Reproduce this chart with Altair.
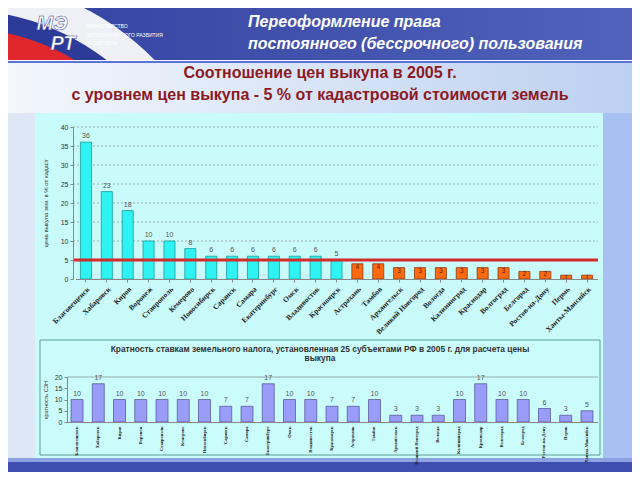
import altair as alt
import pandas as pd

# ---------------- data ----------------
cities = ["Благовещенск", "Хабаровск", "Киров", "Воронеж", "Ставрополь", "Кемерово",
          "Новосибирск", "Саранск", "Самара", "Екатеринбург", "Омск", "Владивосток",
          "Красноярск", "Астрахань", "Тамбов", "Архангельск", "Великий Новгород",
          "Вологда", "Калининград", "Краснодар", "Волгоград", "Белгород",
          "Ростов-на-Дону", "Пермь", "Ханты-Мансийск"]
price_ratio = [36, 23, 18, 10, 10, 8, 6, 6, 6, 6, 6, 6, 5, 4, 4, 3, 3, 3, 3, 3, 3, 2, 2, 1, 1]
tax_multiple = [10, 17, 10, 10, 10, 10, 10, 7, 7, 17, 10, 10, 7, 7, 10, 3, 3, 3, 10, 17, 10, 10, 6, 3, 5]
top_ticks = [0, 5, 10, 15, 20, 25, 30, 35, 40]
grid_vals = [5, 10, 15, 20, 25, 30, 35, 40]
bottom_ticks = [0, 5, 10, 15, 20]
level = [5]

header_line1 = "Переоформление права"
header_line2 = "постоянного (бессрочного) пользования"
title_line1 = "Соотношение цен выкупа в 2005 г."
title_line2 = "с уровнем цен выкупа - 5 % от кадастровой стоимости земель"
sub_title1 = "Кратность ставкам земельного налога, установленная 25 субъектами РФ  в 2005 г. для расчета цены"
sub_title2 = "выкупа"
ministry = ["МИНИСТЕРСТВО", "ЭКОНОМИЧЕСКОГО РАЗВИТИЯ", "И ТОРГОВЛИ"]

df = pd.DataFrame({"city": cities, "ratio": price_ratio, "mult": tax_multiple})
grid_df = pd.DataFrame({"g": grid_vals})
level_df = pd.DataFrame({"lvl": level})
one = pd.DataFrame({"k": [0]})

W, H = 624, 464


def rect(x, x2, y, y2, **kw):
    return alt.Chart(one).mark_rect(**kw).encode(
        x=alt.value(x), x2=alt.value(x2), y=alt.value(y), y2=alt.value(y2))


def label(txt, x, y, **kw):
    return alt.Chart(one).mark_text(text=txt, **kw).encode(x=alt.value(x), y=alt.value(y))


def ring(r1, r2, color):
    return alt.Chart(one).mark_arc(radius=r1, radius2=r2, theta=0, theta2=1.6,
                                   fill=color).encode(x=alt.value(-48), y=alt.value(242))


hgrad = lambda c1, c2: alt.Gradient(gradient="linear", x1=0, x2=1, y1=0, y2=0,
                                    stops=[alt.GradientStop(color=c1, offset=0),
                                           alt.GradientStop(color=c2, offset=1)])

decor = [
    rect(0, W, 0, 52, color=hgrad("#33429f", "#5062bb")),
    ring(170, 222, "#e2272c"),
    ring(222, 240, "#2c3a98"),
    ring(240, 272, "#eef0f6"),
    label("МЭ", 44, 16, fontSize=20, fontWeight="bold", fontStyle="italic", color="white",
          stroke="#2a3a90", strokeWidth=0.5, font="Liberation Sans"),
    label("РТ", 55, 36, fontSize=20, fontWeight="bold", fontStyle="italic", color="white",
          stroke="#2a3a90", strokeWidth=0.5, font="Liberation Sans"),
    label(ministry[0], 78, 18, fontSize=5, color="white", align="left", font="Liberation Sans"),
    label(ministry[1], 78, 27, fontSize=5, color="white", align="left", font="Liberation Sans"),
    label(ministry[2], 78, 35, fontSize=5, color="white", align="left", font="Liberation Sans"),
    label(header_line1, 240, 14, fontSize=16, fontWeight="bold", fontStyle="italic", color="white",
          align="left", font="Liberation Sans"),
    label(header_line2, 240, 36, fontSize=16, fontWeight="bold", fontStyle="italic", color="white",
          align="left", font="Liberation Sans"),
    rect(0, W, 52, 53, color="#ffffff"),
    rect(0, W, 53, 55, color="#5b73d6"),
    rect(0, W, 55, 105, color=hgrad("#f3f7fc", "#bcd0f1")),
    label(title_line1, 312, 65, fontSize=16, fontWeight="bold", color="#8c1a1f",
          font="Liberation Sans"),
    label(title_line2, 312, 87, fontSize=16, fontWeight="bold", color="#8c1a1f",
          font="Liberation Sans"),
    rect(0, 27, 105, 450, color="#dde7f6"),
    rect(27, 595, 105, 450, color="#c9fbfb"),
    rect(595, W, 105, 450, color="#a9c1f2"),
    rect(32, 592, 332, 447, fill="#cbfcfc", stroke="#5d9b8f", strokeWidth=1),
    label(sub_title1, 312, 341, fontSize=8.4, fontWeight="bold", color="#333333", font="Liberation Sans"),
    label(sub_title2, 312, 350, fontSize=8.4, fontWeight="bold", color="#333333", font="Liberation Sans"),
    rect(0, W, 450, 454, color="#8ea2e2"),
    rect(0, W, 454, H, color="#3e4db0"),
]

# ---------------- top chart ----------------
xs_top = alt.Scale(type="band", domain=cities, range=[67.5, 589.5], paddingInner=0.47, paddingOuter=0.235)
ys_top = alt.Scale(domain=[0, 40], range=[271, 119], nice=False)

grid_top = alt.Chart(grid_df).mark_rule(strokeDash=[2, 2], color="#7f9090", strokeWidth=0.7).encode(
    y=alt.Y("g:Q", scale=ys_top, axis=None), x=alt.value(65), x2=alt.value(590))

bars_top = alt.Chart(df).mark_bar(strokeWidth=0.8).encode(
    x=alt.X("city:N", scale=xs_top, sort=cities,
            axis=alt.Axis(orient="bottom", offset=-193, title=None, labelAngle=-45, labelOverlap=False,
                          labelFont="Liberation Serif", labelFontWeight="bold", labelFontSize=7.5,
                          labelColor="#222222", domainColor="#888888", tickColor="#888888",
                          tickSize=3, labelPadding=3, zindex=2)),
    y=alt.Y("ratio:Q", scale=ys_top,
            axis=alt.Axis(orient="left", offset=-65, values=top_ticks, grid=False,
                          title="цена выкупа зем. в % от кадаст", titleFontSize=6,
                          titleFontWeight="normal", titleColor="#333333", titleFont="Liberation Sans",
                          titlePadding=12,
                          labelFontSize=7, labelColor="#333333", labelFont="Liberation Sans",
                          domainColor="#888888", tickColor="#888888", tickSize=3, zindex=2)),
    color=alt.condition("datum.ratio >= 5", alt.value("#2ff3f3"), alt.value("#ff6a10")),
    stroke=alt.condition("datum.ratio >= 5", alt.value("#1b9c9c"), alt.value("#8a3a10")),
)

red_line = alt.Chart(level_df).mark_rule(color="#d42a2a", strokeWidth=3).encode(
    y=alt.Y("lvl:Q", scale=ys_top, axis=None), x=alt.value(65), x2=alt.value(590))

lab_hi = alt.Chart(df).transform_filter("datum.ratio >= 5").mark_text(
    dy=-6, fontSize=7, color="#555555", font="Liberation Sans").encode(
    x=alt.X("city:N", scale=xs_top, axis=None),
    y=alt.Y("ratio:Q", scale=ys_top, axis=None), text="ratio:Q")

lab_lo = alt.Chart(df).transform_filter("datum.ratio < 5").mark_text(
    dy=3, fontSize=6.5, color="#5a2008", font="Liberation Sans").encode(
    x=alt.X("city:N", scale=xs_top, axis=None),
    y=alt.Y("ratio:Q", scale=ys_top, axis=None), text="ratio:Q")

# ---------------- bottom chart ----------------
xs_bot = alt.Scale(type="band", domain=cities, range=[58.4, 589.6], paddingInner=0.435, paddingOuter=0.2175)
ys_bot = alt.Scale(domain=[0, 20], range=[414, 369], nice=False)

grid_bot = alt.Chart(pd.DataFrame({"g": [20]})).mark_rule(color="#7f9a96", strokeWidth=0.8).encode(
    y=alt.Y("g:Q", scale=ys_bot, axis=None), x=alt.value(59), x2=alt.value(590))

bars_bot = alt.Chart(df).mark_bar(fill="#9a9cfa", stroke="#4d4f8f", strokeWidth=0.7).encode(
    x=alt.X("city:N", scale=xs_bot, sort=cities,
            axis=alt.Axis(orient="bottom", offset=-50, title=None, labelAngle=-90, labelOverlap=False,
                          labelFont="Liberation Serif", labelFontWeight="bold", labelFontSize=4.5,
                          labelColor="#222222", domainColor="#888888", ticks=False, labelPadding=4,
                          zindex=2)),
    y=alt.Y("mult:Q", scale=ys_bot,
            axis=alt.Axis(orient="left", offset=-59, values=bottom_ticks, grid=False,
                          title="кратность СЗН", titleFontSize=5.5, titleFontWeight="normal",
                          titleColor="#333333", titleFont="Liberation Sans", titlePadding=6,
                          labelFontSize=7, labelColor="#333333", labelFont="Liberation Sans",
                          domainColor="#888888", tickColor="#888888", tickSize=3, zindex=2)),
)

lab_bot = alt.Chart(df).mark_text(dy=-6, fontSize=7, color="#555555", font="Liberation Sans").encode(
    x=alt.X("city:N", scale=xs_bot, axis=None),
    y=alt.Y("mult:Q", scale=ys_bot, axis=None), text="mult:Q")

chart = alt.layer(
    *decor, grid_top, bars_top, red_line, lab_hi, lab_lo, grid_bot, bars_bot, lab_bot
).resolve_scale(x="independent", y="independent").properties(
    width=W, height=H, autosize=alt.AutoSizeParams(type="none"), padding=0,
    background="#dbe6f6"
).configure_view(strokeWidth=0)

chart.save("out.html", embed_options={"renderer": "svg", "actions": False})
